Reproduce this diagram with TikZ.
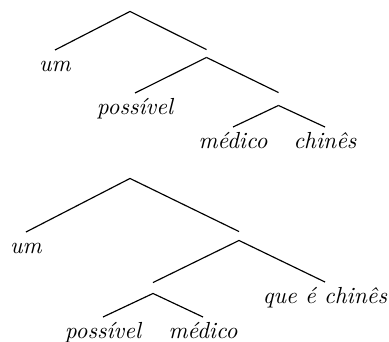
\documentclass[tikz,border=0pt]{standalone}
\usepackage{fontspec}
\begin{document}
\begin{tikzpicture}[x=0.43pt,y=-0.43pt,
  inner/.style={draw=none,inner sep=0pt,minimum width=0pt,minimum height=#1},
  leaf/.style={anchor=north,inner sep=2pt,text height=7pt,text depth=2pt,font=\itshape},
  edge/.style={line width=0.5pt}]
\useasboundingbox (0,0) rectangle (389,341);
% tree 1
\node[inner=3pt] (r1) at (130,7.5) {};
\node[leaf] (um1) at (55,50) {um};
\node[inner=3pt] (a1) at (206.5,53.5) {};
\node[leaf] (pos1) at (135,93) {possível};
\node[inner=5.16pt] (b1) at (278.5,99) {};
\node[leaf] (med1) at (233,127) {médico};
\node[leaf] (chi1) at (325,127) {chinês};
\draw[edge] (r1.south) -- (um1.north);
\draw[edge] (r1.south) -- (a1.north);
\draw[edge] (a1.south) -- (pos1.north);
\draw[edge] (a1.south) -- (b1.north);
\draw[edge] (b1.south) -- (med1.north);
\draw[edge] (b1.south) -- (chi1.north);
% tree 2
\node[inner=3pt] (r2) at (130,174.5) {};
\node[leaf] (um2) at (26,232) {um};
\node[inner=3.44pt] (a2) at (239,236) {};
\node[inner=4.3pt] (b2) at (153,288) {};
\node[leaf] (que2) at (325,282) {que é chinês};
\node[leaf] (pos2) at (103,317) {possível};
\node[leaf] (med2) at (203,317) {médico};
\draw[edge] (r2.south) -- (um2.north);
\draw[edge] (r2.south) -- (a2.north);
\draw[edge] (a2.south) -- (b2.north);
\draw[edge] (a2.south) -- (que2.north);
\draw[edge] (b2.south) -- (pos2.north);
\draw[edge] (b2.south) -- (med2.north);
\end{tikzpicture}
\end{document}
